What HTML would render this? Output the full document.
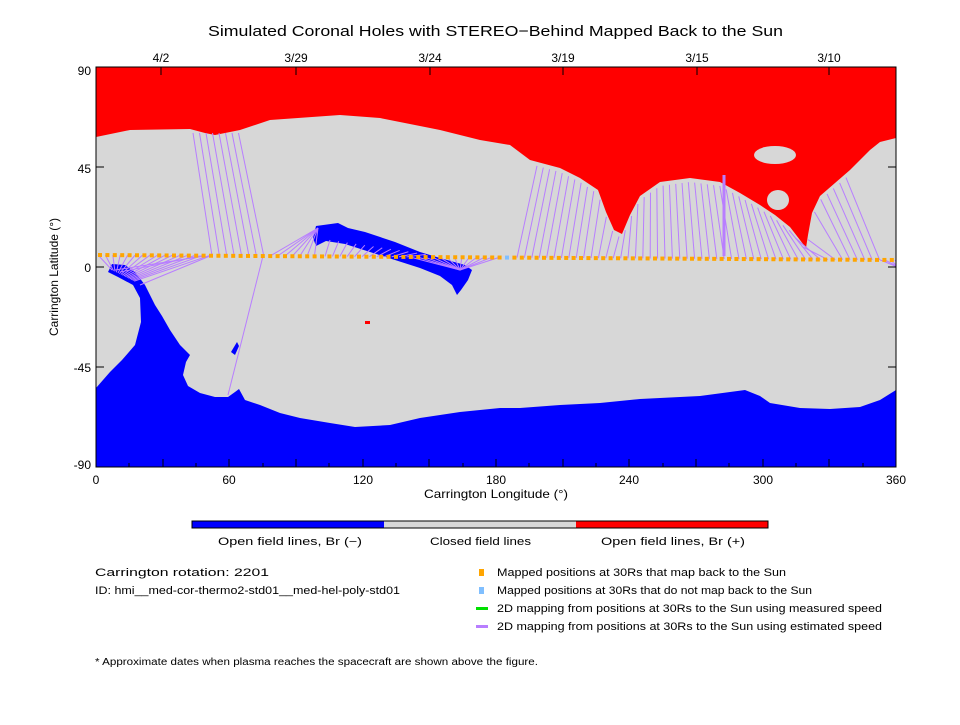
<!DOCTYPE html>
<html><head><meta charset="utf-8"><style>
body{margin:0;background:#fff;}
svg text{font-family:"Liberation Sans",sans-serif;fill:#000;}
</style></head><body>
<svg id="s" width="960" height="720" viewBox="0 0 960 720" xmlns="http://www.w3.org/2000/svg">
<rect width="960" height="720" fill="#fff"/>
<text x="208" y="36" font-size="15" textLength="575" lengthAdjust="spacingAndGlyphs">Simulated Coronal Holes with STEREO−Behind Mapped Back to the Sun</text>
<defs><clipPath id="c"><rect x="96" y="67" width="800" height="400"/></clipPath></defs>
<g clip-path="url(#c)">
<rect x="96" y="67" width="800" height="400" fill="#d7d7d7"/>
<polygon fill="#ff0000" points="96,67 96,137 130,130 190,129 205,133 215,135 240,130 270,120 340,115 380,118 440,130 480,140 510,145 530,160 560,168 580,178 598,190 606,212 614,230 622,234 630,215 640,196 660,182 690,178 720,182 740,193 760,205 775,215 790,227 800,240 806,248 808,235 812,213 820,196 835,183 850,170 860,160 870,150 880,142 896,138 896,67"/>
<ellipse cx="775" cy="155" rx="21" ry="9" fill="#d7d7d7"/>
<ellipse cx="778" cy="200" rx="11" ry="10" fill="#d7d7d7"/>
<polygon fill="#0000ff" points="96,467 96,388 110,372 122,360 135,345 141,322 140,298 133,285 118,277 108,272 112,264 125,265 135,272 145,285 155,305 162,316 170,330 180,345 190,355 186,362 183,375 188,386 200,393 215,397 228,397 235,392 239,389 245,400 260,405 280,413 300,418 330,423 355,427 390,425 420,418 460,412 500,408 520,408 560,405 600,403 640,399 660,398 700,396 730,392 745,390 760,396 770,403 800,408 830,409 860,407 880,400 896,390 896,467"/>
<polygon fill="#0000ff" points="316,226 338,223 348,228 365,232 395,242 420,252 440,258 465,265 472,270 468,280 461,290 457,295 452,285 440,276 420,268 395,260 370,252 345,244 326,241 316,246 313,238"/>
<polygon fill="#0000ff" points="231,352 237,342 239,346 235,355"/>
<rect x="365" y="321" width="5" height="3" fill="#ff0000"/>
<g id="lines" stroke="#b87eff" stroke-width="1" fill="none"></g>
<g id="dots"></g>
</g>
<rect x="96" y="67" width="800" height="400" fill="none" stroke="#000" stroke-width="1"/>
<g id="ticks" stroke="#000" stroke-width="1"></g>
<g font-size="12">
<text x="96" y="484" text-anchor="middle">0</text>
<text x="229" y="484" text-anchor="middle">60</text>
<text x="363" y="484" text-anchor="middle">120</text>
<text x="496" y="484" text-anchor="middle">180</text>
<text x="629" y="484" text-anchor="middle">240</text>
<text x="763" y="484" text-anchor="middle">300</text>
<text x="896" y="484" text-anchor="middle">360</text>
<text x="91" y="75" text-anchor="end">90</text>
<text x="91" y="173" text-anchor="end">45</text>
<text x="91" y="272" text-anchor="end">0</text>
<text x="91" y="372" text-anchor="end">-45</text>
<text x="91" y="469" text-anchor="end">-90</text>
<text x="161" y="62" text-anchor="middle">4/2</text>
<text x="296" y="62" text-anchor="middle">3/29</text>
<text x="430" y="62" text-anchor="middle">3/24</text>
<text x="563" y="62" text-anchor="middle">3/19</text>
<text x="697" y="62" text-anchor="middle">3/15</text>
<text x="829" y="62" text-anchor="middle">3/10</text>
<text x="424" y="498" textLength="144" lengthAdjust="spacingAndGlyphs">Carrington Longitude (°)</text>
<text transform="translate(58,336) rotate(-90)" textLength="118" lengthAdjust="spacingAndGlyphs">Carrington Latitude (°)</text>
</g>
<rect x="192" y="521" width="192" height="7" fill="#0000ff"/>
<rect x="384" y="521" width="192" height="7" fill="#d7d7d7"/>
<rect x="576" y="521" width="192" height="7" fill="#ff0000"/>
<rect x="192" y="521" width="576" height="7" fill="none" stroke="#000" stroke-width="1"/>
<g font-size="11">
<text x="218" y="545" textLength="144" lengthAdjust="spacingAndGlyphs">Open field lines, Br (−)</text>
<text x="430" y="545" textLength="101" lengthAdjust="spacingAndGlyphs">Closed field lines</text>
<text x="601" y="545" textLength="144" lengthAdjust="spacingAndGlyphs">Open field lines, Br (+)</text>
<text x="95" y="576" textLength="174" lengthAdjust="spacingAndGlyphs">Carrington rotation: 2201</text>
<text x="95" y="594" textLength="305" lengthAdjust="spacingAndGlyphs">ID: hmi__med-cor-thermo2-std01__med-hel-poly-std01</text>
<rect x="479" y="569" width="5" height="7" fill="#ffa500"/>
<rect x="479" y="587" width="5" height="7" fill="#80bfff"/>
<rect x="476" y="607" width="12" height="3" fill="#00e000"/>
<rect x="476" y="625" width="12" height="3" fill="#b87eff"/>
<text x="497" y="576" textLength="289" lengthAdjust="spacingAndGlyphs">Mapped positions at 30Rs that map back to the Sun</text>
<text x="497" y="594" textLength="315" lengthAdjust="spacingAndGlyphs">Mapped positions at 30Rs that do not map back to the Sun</text>
<text x="497" y="612" textLength="385" lengthAdjust="spacingAndGlyphs">2D mapping from positions at 30Rs to the Sun using measured speed</text>
<text x="497" y="630" textLength="385" lengthAdjust="spacingAndGlyphs">2D mapping from positions at 30Rs to the Sun using estimated speed</text>
<text x="95" y="665" font-size="10" textLength="443" lengthAdjust="spacingAndGlyphs">* Approximate dates when plasma reaches the spacecraft are shown above the figure.</text>
</g>
</svg>
<script>
var NS="http://www.w3.org/2000/svg";
function el(p,t,a){var e=document.createElementNS(NS,t);for(var k in a)e.setAttribute(k,a[k]);p.appendChild(e);return e;}
var tk=document.getElementById('ticks');
[96,129,163,196,229,263,296,329,363,396,429,463,496,529,563,596,629,663,696,729,763,796,829,863,896].forEach(function(x,i){var L=i%2?4:8;el(tk,'line',{x1:x,y1:467,x2:x,y2:467-L});});
[67,167,267,367,467].forEach(function(y){el(tk,'line',{x1:96,y1:y,x2:104,y2:y});el(tk,'line',{x1:896,y1:y,x2:888,y2:y});});
[161,296,430,563,697,829].forEach(function(x){el(tk,'line',{x1:x,y1:67,x2:x,y2:75});});
var bd=[[490,141],[530,160],[560,168],[580,178],[598,190],[606,212],[614,230],[622,234],[630,215],[640,196],[660,182],[690,178],[720,182],[740,193],[760,205],[775,215],[790,227],[800,240],[806,248],[812,213],[820,196],[835,183],[850,170],[860,160],[870,150],[880,142],[896,138]];
function by(x){for(var i=0;i<bd.length-1;i++){if(x>=bd[i][0]&&x<=bd[i+1][0]){var t=(x-bd[i][0])/(bd[i+1][0]-bd[i][0]);return bd[i][1]+t*(bd[i+1][1]-bd[i][1]);}}return 140;}
function dy(x){return 255+(x-96)/800*5;}
var ln=document.getElementById('lines');
function L(a,b,c,d){el(ln,'line',{x1:a,y1:b,x2:c,y2:d});}
for(var x=517;x<=882;x+=7.4){var t=(x-517)/365;var tx=x+20-54*t;var ty=by(tx)+4;L(x,dy(x),tx,ty);}
el(ln,'line',{x1:724,y1:256,x2:724,y2:175,'stroke-width':3});
for(var i=0;i<8;i++){var x=212+i*7.4;L(x,dy(x),193+i*6.5,133);}
for(var x=98;x<=210;x+=7.4){L(x,dy(x),112+(x-98)*0.2,270+(x-98)*0.1);}
L(115,270,205,256);L(120,272,200,256);L(140,285,210,256);
L(263,256,228,395);
for(var x=270;x<=320;x+=7.4){L(x,dy(x),318,228);}
for(var x=325;x<=410;x+=7.4){var t=(x-325)/85;L(x,dy(x),330+t*100,240+t*15);}
for(var x=410;x<=505;x+=7.4){L(x,dy(x),460,270);}
for(var x=880;x<=896;x+=5){L(x,dy(x),900,268);}
var dg=document.getElementById('dots');
for(var x=100;x<=896;x+=7.4){el(dg,'rect',{x:x-2,y:dy(x)-2,width:4,height:4,fill:(Math.abs(x-510)<4?'#80bfff':'#ffa500')});}
</script>
</body></html>
